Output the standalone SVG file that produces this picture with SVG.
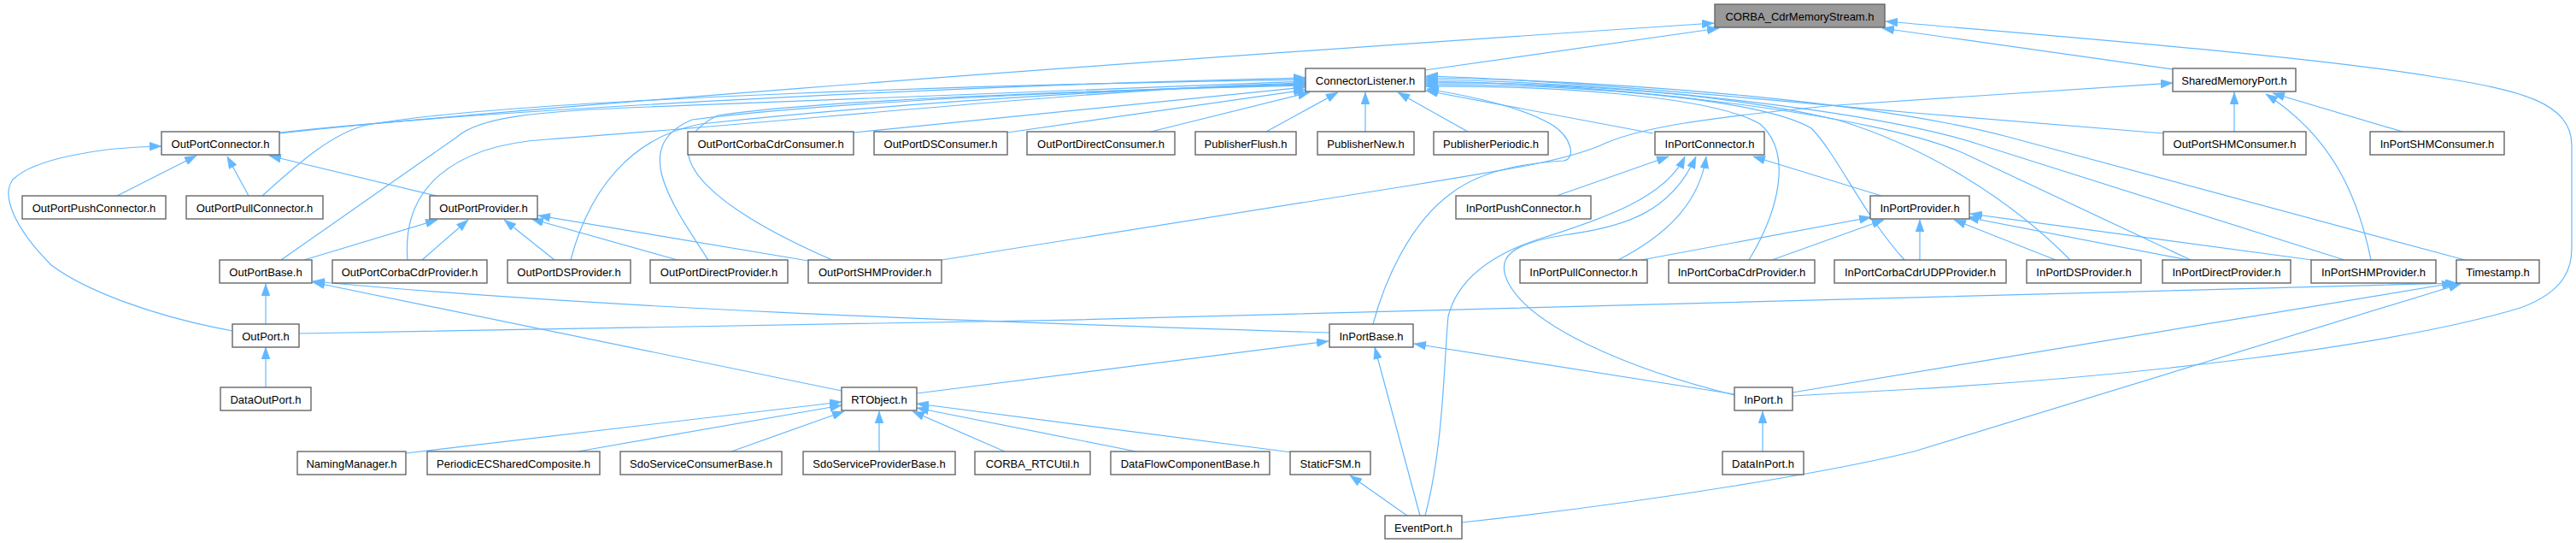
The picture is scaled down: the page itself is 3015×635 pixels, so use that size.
<svg xmlns="http://www.w3.org/2000/svg" width="3015" height="635" viewBox="0 0 3015 635">
<style>
.n rect{fill:#ffffff;stroke:#666666;stroke-width:1.4}
.n.root rect{fill:#999999}
.n text{font-family:"Liberation Sans",Arial,sans-serif;font-size:13px;fill:#000000;text-anchor:middle}
.e path{fill:none;stroke:#63b8ff;stroke-width:1.2;marker-end:url(#ah)}
</style>
<defs>
<marker id="ah" markerUnits="userSpaceOnUse" viewBox="0 0 14 10" refX="14" refY="5" markerWidth="14" markerHeight="10" orient="auto">
<path d="M0,0 L14,5 L0,10 Z" fill="#63b8ff" stroke="#63b8ff" stroke-width="0.5"/>
</marker>
</defs>
<rect width="3015" height="635" fill="#ffffff"/>
<g id="connectors" class="e">
<path d="M1668,82 L2012,33"/>
<path d="M327,156 C500,136 1200,80 2006,27"/>
<path d="M2543,81 L2203,33"/>
<path d="M2098,463 L2240,455 C2500,440 2800,405 2950,360 C3005,340 3010,310 3010,290 L3010,170 C3010,120 2950,105 2850,90 C2700,65 2400,42 2207,25"/>
<path d="M327,155 C600,125 1200,98 1528,91"/>
<path d="M307,229 C350,190 390,155 430,146 C600,115 1200,98 1528,93"/>
<path d="M329,304 L535,160 C560,138 620,130 760,125 C1100,110 1400,99 1528,95"/>
<path d="M477,304 C470,220 530,170 640,163 C900,145 1300,102 1528,97"/>
<path d="M668,304 C690,220 740,160 820,145 C1100,115 1400,101 1528,98"/>
<path d="M829,304 C780,230 740,170 810,140 C1000,115 1400,102 1528,99"/>
<path d="M974,304 C850,250 750,180 840,135 C1000,112 1400,103 1528,100"/>
<path d="M999,155 L1528,102"/>
<path d="M1179,155 L1528,105"/>
<path d="M1343,155 L1533,108"/>
<path d="M1482,154 L1566,108"/>
<path d="M1598,154 L1598,108"/>
<path d="M1718,154 L1636,108"/>
<path d="M1935,156 L1669,106"/>
<path d="M1607,379 C1620,330 1650,260 1700,225 C1740,195 1800,190 1830,188 C1845,186 1840,160 1815,145 C1780,125 1720,112 1670,104"/>
<path d="M2047,304 C2080,250 2100,180 2060,145 C2000,110 1800,100 1669,101"/>
<path d="M2229,304 C2180,250 2150,180 2120,150 C2050,110 1800,98 1669,99"/>
<path d="M2423,304 C2350,230 2250,170 2150,140 C2000,105 1800,96 1669,97"/>
<path d="M2564,304 L2300,180 C2200,135 1900,98 1669,95"/>
<path d="M2744,304 L2320,170 C2200,130 1900,96 1669,93"/>
<path d="M2885,304 L2350,160 C2200,120 1900,94 1669,91"/>
<path d="M2532,156 L2240,132 C2000,110 1800,92 1669,89"/>
<path d="M1102,304 L1650,217 C1780,196 1840,186 1880,167 C1920,150 1990,138 2150,123 L2543,97"/>
<path d="M2615,154 L2615,108"/>
<path d="M2812,154 L2660,109"/>
<path d="M2775,304 C2760,230 2730,160 2652,110"/>
<path d="M137,229 L230,182"/>
<path d="M291,229 L266,183"/>
<path d="M511,229 L315,182"/>
<path d="M272,387 C180,370 100,340 60,310 C20,270 0,230 15,210 C40,185 120,172 189,171"/>
<path d="M356,304 L512,257"/>
<path d="M494,304 L548,257"/>
<path d="M649,304 L590,257"/>
<path d="M793,304 L622,256"/>
<path d="M946,305 L630,252"/>
<path d="M311,379 L311,332"/>
<path d="M985,457 L366,330"/>
<path d="M1556,389 C1100,375 700,360 366,329"/>
<path d="M350,390 C1200,378 2400,350 2876,331"/>
<path d="M311,453 L311,406"/>
<path d="M475,530 L985,470"/>
<path d="M676,528 L985,474"/>
<path d="M856,528 L988,481"/>
<path d="M1029,528 L1029,481"/>
<path d="M1176,528 L1068,481"/>
<path d="M1330,528 L1073,477"/>
<path d="M1512,529 L1073,472"/>
<path d="M1073,460 L1555,399"/>
<path d="M2030,461 L1655,402"/>
<path d="M1662,603 L1609,406"/>
<path d="M1647,603 L1580,556"/>
<path d="M1668,603 C1690,520 1690,420 1695,370 C1705,330 1740,300 1800,280 C1880,255 1950,230 1972,183"/>
<path d="M1711,611 C1950,585 2150,550 2240,528 L2880,332"/>
<path d="M2030,462 C1900,430 1790,380 1765,330 C1750,300 1770,285 1830,275 C1900,265 1955,250 1985,183"/>
<path d="M2098,459 L2872,331"/>
<path d="M2063,528 L2063,481"/>
<path d="M1822,229 L1953,183"/>
<path d="M1894,304 C1960,270 1990,230 1997,183"/>
<path d="M2202,229 L2052,183"/>
<path d="M1921,304 L2190,254"/>
<path d="M2074,304 L2205,257"/>
<path d="M2247,304 L2247,257"/>
<path d="M2406,304 L2287,257"/>
<path d="M2561,304 L2302,254"/>
<path d="M2706,304 L2306,250"/>
</g>
<g id="CORBA_CdrMemoryStream" class="n root"><rect x="2007" y="5" width="199" height="27"/><text x="2106.5" y="23.5">CORBA_CdrMemoryStream.h</text></g>
<g id="ConnectorListener" class="n"><rect x="1528" y="80" width="140" height="27"/><text x="1598" y="98.5">ConnectorListener.h</text></g>
<g id="SharedMemoryPort" class="n"><rect x="2543" y="80" width="144" height="27"/><text x="2615" y="98.5">SharedMemoryPort.h</text></g>
<g id="OutPortConnector" class="n"><rect x="189" y="154" width="138" height="27"/><text x="258" y="172.5">OutPortConnector.h</text></g>
<g id="OutPortCorbaCdrConsumer" class="n"><rect x="805" y="154" width="194" height="27"/><text x="902" y="172.5">OutPortCorbaCdrConsumer.h</text></g>
<g id="OutPortDSConsumer" class="n"><rect x="1023" y="154" width="156" height="27"/><text x="1101" y="172.5">OutPortDSConsumer.h</text></g>
<g id="OutPortDirectConsumer" class="n"><rect x="1202" y="154" width="173" height="27"/><text x="1288.5" y="172.5">OutPortDirectConsumer.h</text></g>
<g id="PublisherFlush" class="n"><rect x="1399" y="154" width="118" height="27"/><text x="1458" y="172.5">PublisherFlush.h</text></g>
<g id="PublisherNew" class="n"><rect x="1542" y="154" width="113" height="27"/><text x="1598.5" y="172.5">PublisherNew.h</text></g>
<g id="PublisherPeriodic" class="n"><rect x="1678" y="154" width="134" height="27"/><text x="1745" y="172.5">PublisherPeriodic.h</text></g>
<g id="InPortConnector" class="n"><rect x="1937" y="154" width="128" height="27"/><text x="2001" y="172.5">InPortConnector.h</text></g>
<g id="OutPortSHMConsumer" class="n"><rect x="2532" y="154" width="167" height="27"/><text x="2615.5" y="172.5">OutPortSHMConsumer.h</text></g>
<g id="InPortSHMConsumer" class="n"><rect x="2774" y="154" width="157" height="27"/><text x="2852.5" y="172.5">InPortSHMConsumer.h</text></g>
<g id="OutPortPushConnector" class="n"><rect x="26" y="229" width="168" height="27"/><text x="110" y="247.5">OutPortPushConnector.h</text></g>
<g id="OutPortPullConnector" class="n"><rect x="218" y="229" width="160" height="27"/><text x="298" y="247.5">OutPortPullConnector.h</text></g>
<g id="OutPortProvider" class="n"><rect x="503" y="229" width="126" height="27"/><text x="566" y="247.5">OutPortProvider.h</text></g>
<g id="InPortPushConnector" class="n"><rect x="1704" y="229" width="158" height="27"/><text x="1783" y="247.5">InPortPushConnector.h</text></g>
<g id="InPortProvider" class="n"><rect x="2189" y="229" width="116" height="27"/><text x="2247" y="247.5">InPortProvider.h</text></g>
<g id="OutPortBase" class="n"><rect x="257" y="304" width="108" height="27"/><text x="311" y="322.5">OutPortBase.h</text></g>
<g id="OutPortCorbaCdrProvider" class="n"><rect x="389" y="304" width="181" height="27"/><text x="479.5" y="322.5">OutPortCorbaCdrProvider.h</text></g>
<g id="OutPortDSProvider" class="n"><rect x="594" y="304" width="144" height="27"/><text x="666" y="322.5">OutPortDSProvider.h</text></g>
<g id="OutPortDirectProvider" class="n"><rect x="761" y="304" width="161" height="27"/><text x="841.5" y="322.5">OutPortDirectProvider.h</text></g>
<g id="OutPortSHMProvider" class="n"><rect x="946" y="304" width="156" height="27"/><text x="1024" y="322.5">OutPortSHMProvider.h</text></g>
<g id="InPortPullConnector" class="n"><rect x="1779" y="304" width="149" height="27"/><text x="1853.5" y="322.5">InPortPullConnector.h</text></g>
<g id="InPortCorbaCdrProvider" class="n"><rect x="1953" y="304" width="171" height="27"/><text x="2038.5" y="322.5">InPortCorbaCdrProvider.h</text></g>
<g id="InPortCorbaCdrUDPProvider" class="n"><rect x="2147" y="304" width="201" height="27"/><text x="2247.5" y="322.5">InPortCorbaCdrUDPProvider.h</text></g>
<g id="InPortDSProvider" class="n"><rect x="2372" y="304" width="134" height="27"/><text x="2439" y="322.5">InPortDSProvider.h</text></g>
<g id="InPortDirectProvider" class="n"><rect x="2531" y="304" width="150" height="27"/><text x="2606" y="322.5">InPortDirectProvider.h</text></g>
<g id="InPortSHMProvider" class="n"><rect x="2705" y="304" width="146" height="27"/><text x="2778" y="322.5">InPortSHMProvider.h</text></g>
<g id="Timestamp" class="n"><rect x="2875" y="304" width="97" height="27"/><text x="2923.5" y="322.5">Timestamp.h</text></g>
<g id="OutPort" class="n"><rect x="272" y="379" width="78" height="27"/><text x="311" y="397.5">OutPort.h</text></g>
<g id="InPortBase" class="n"><rect x="1556" y="379" width="98" height="27"/><text x="1605" y="397.5">InPortBase.h</text></g>
<g id="DataOutPort" class="n"><rect x="258" y="453" width="106" height="27"/><text x="311" y="471.5">DataOutPort.h</text></g>
<g id="RTObject" class="n"><rect x="985" y="453" width="88" height="27"/><text x="1029" y="471.5">RTObject.h</text></g>
<g id="InPort" class="n"><rect x="2030" y="453" width="68" height="27"/><text x="2064" y="471.5">InPort.h</text></g>
<g id="NamingManager" class="n"><rect x="348" y="528" width="127" height="27"/><text x="411.5" y="546.5">NamingManager.h</text></g>
<g id="PeriodicECSharedComposite" class="n"><rect x="500" y="528" width="202" height="27"/><text x="601" y="546.5">PeriodicECSharedComposite.h</text></g>
<g id="SdoServiceConsumerBase" class="n"><rect x="726" y="528" width="189" height="27"/><text x="820.5" y="546.5">SdoServiceConsumerBase.h</text></g>
<g id="SdoServiceProviderBase" class="n"><rect x="940" y="528" width="178" height="27"/><text x="1029" y="546.5">SdoServiceProviderBase.h</text></g>
<g id="CORBA_RTCUtil" class="n"><rect x="1141" y="528" width="135" height="27"/><text x="1208.5" y="546.5">CORBA_RTCUtil.h</text></g>
<g id="DataFlowComponentBase" class="n"><rect x="1300" y="528" width="186" height="27"/><text x="1393" y="546.5">DataFlowComponentBase.h</text></g>
<g id="StaticFSM" class="n"><rect x="1510" y="528" width="94" height="27"/><text x="1557" y="546.5">StaticFSM.h</text></g>
<g id="DataInPort" class="n"><rect x="2016" y="528" width="95" height="27"/><text x="2063.5" y="546.5">DataInPort.h</text></g>
<g id="EventPort" class="n"><rect x="1621" y="603" width="90" height="27"/><text x="1666" y="621.5">EventPort.h</text></g>
</svg>
